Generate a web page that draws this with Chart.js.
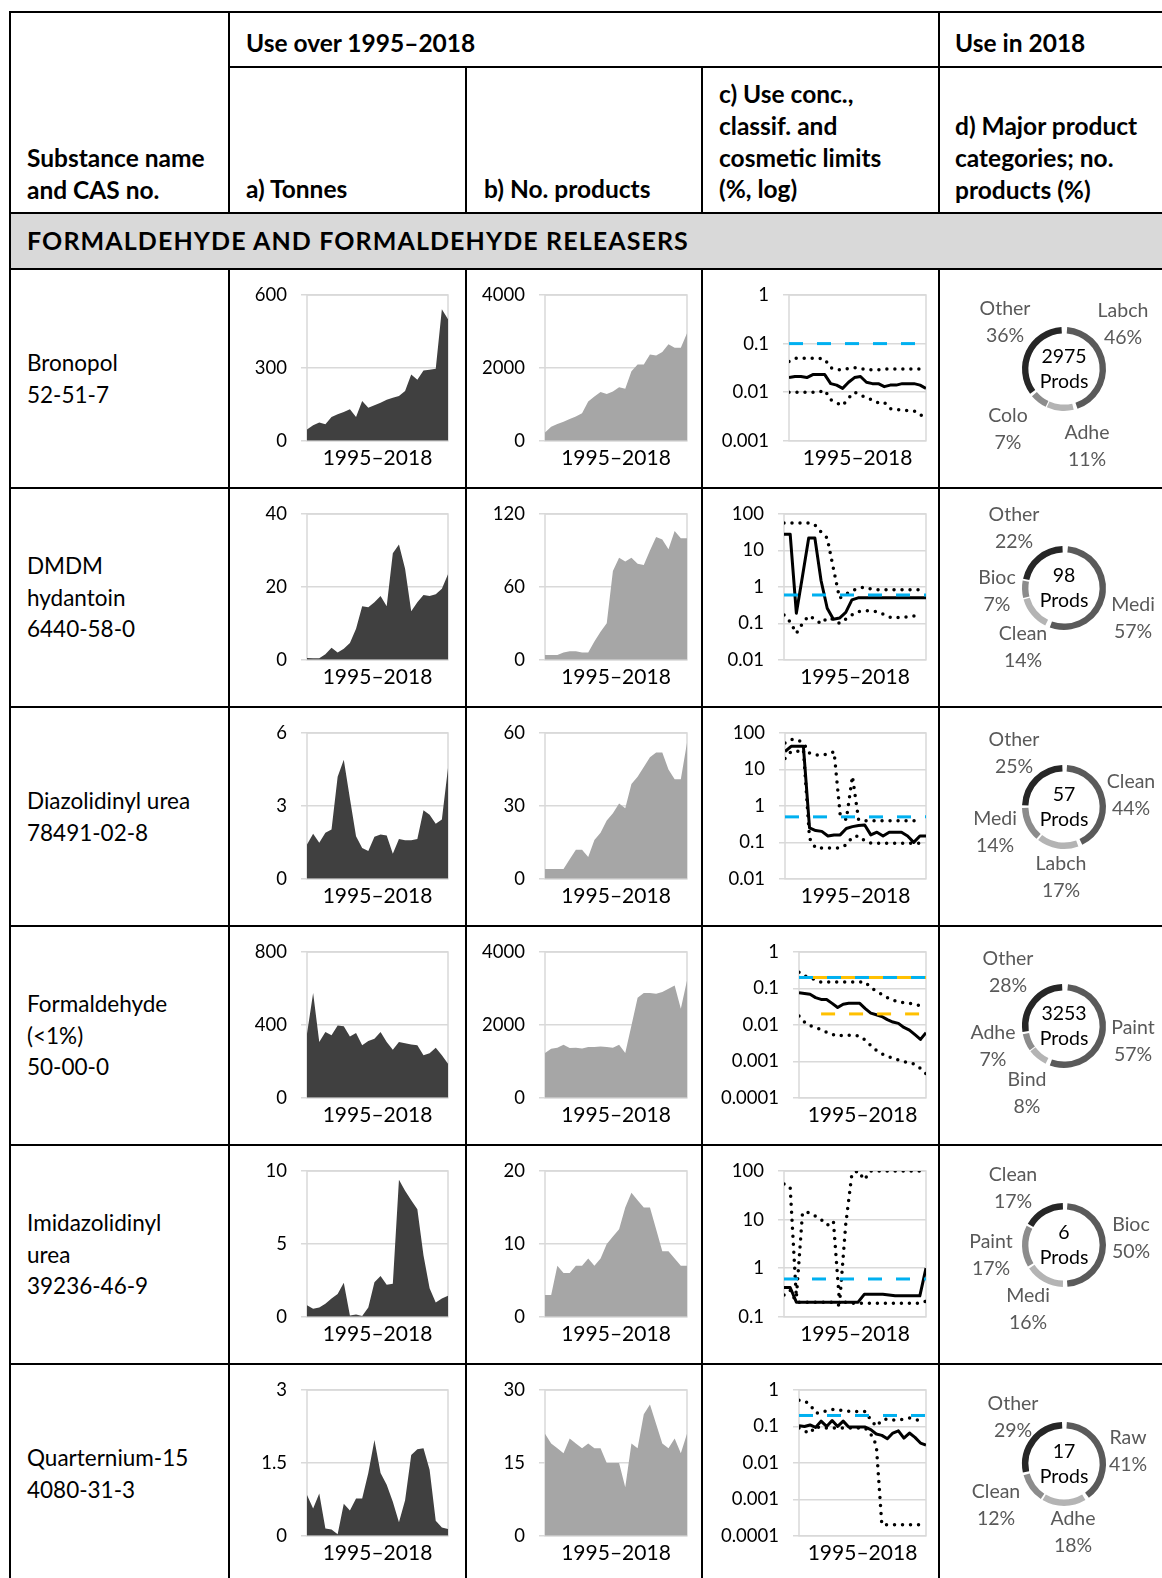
<!DOCTYPE html>
<html>
<head>
<meta charset="utf-8">
<script src="https://cdn.jsdelivr.net/npm/chart.js@4.4.1/dist/chart.umd.min.js"></script>
<style>
  body { margin: 0; background: #fff; }
  #page { position: relative; width: 1162px; height: 1578px; overflow: hidden; font-family: Lato, sans-serif; color: #000; }
  .ln { position: absolute; background: #000; }
  .tx { position: absolute; white-space: nowrap; line-height: 31.7px; }
  .hd { font-weight: bold; font-size: 24.5px; }
  .sec { font-weight: bold; font-size: 25px; letter-spacing: 1.1px; }
  .nm { font-size: 22.5px; }
  canvas { position: absolute; }
</style>
</head>
<body>
<div id="page"></div>
<script>
// Substance use table — tonnes, products, concentrations, product categories

// ---- Data ----
const years = [1995, 1996, 1997, 1998, 1999, 2000, 2001, 2002, 2003, 2004, 2005, 2006,
               2007, 2008, 2009, 2010, 2011, 2012, 2013, 2014, 2015, 2016, 2017, 2018];

const substanceNames = [
  ['Bronopol', '52-51-7'],
  ['DMDM', 'hydantoin', '6440-58-0'],
  ['Diazolidinyl urea', '78491-02-8'],
  ['Formaldehyde', '(<1%)', '50-00-0'],
  ['Imidazolidinyl', 'urea', '39236-46-9'],
  ['Quarternium-15', '4080-31-3']
];

// a) tonnes
const tonnesBronopol = [46, 64, 75, 68, 98, 109, 119, 130, 98, 164, 136, 146, 157, 169, 177, 184, 205, 273, 251, 289, 292, 296, 541, 500];
const tonnesDmdm = [0.5, 0.4, 0.4, 1.5, 3.3, 2.0, 3.0, 4.6, 8.5, 14.7, 14.4, 15.8, 17.5, 14.7, 29.2, 31.6, 25, 13.3, 15.8, 17.8, 17.5, 18, 19.5, 23.5];
const tonnesDiazolidinyl = [1.41, 1.85, 1.48, 1.89, 2.03, 4.2, 4.9, 3.3, 1.75, 1.27, 1.14, 1.73, 1.82, 1.78, 1.03, 1.64, 1.59, 1.59, 1.64, 2.82, 2.64, 2.27, 2.44, 4.56];
const tonnesFormaldehyde = [352, 575, 306, 361, 343, 397, 392, 337, 355, 288, 311, 324, 361, 306, 264, 306, 300, 293, 288, 233, 245, 275, 233, 187];
const tonnesImidazolidinyl = [0.79, 0.56, 0.63, 0.9, 1.26, 1.56, 2.33, 0.09, 0.16, 0.05, 0.63, 2.37, 2.79, 2.19, 2.26, 9.4, 8.65, 8.0, 7.37, 4.23, 1.95, 0.98, 1.26, 1.44];
const tonnesQuaternium = [0.84, 0.56, 0.87, 0.15, 0.13, 0.03, 0.66, 0.52, 0.77, 0.77, 1.29, 1.97, 1.29, 1.05, 0.7, 0.28, 0.73, 1.66, 1.78, 1.8, 1.36, 0.31, 0.17, 0.14];
const tonnesTicks = [[0, 300, 600], [0, 20, 40], [0, 3, 6], [0, 400, 800], [0, 5, 10], [0, 1.5, 3]];

// b) number of products
const prodsBronopol = [230, 387, 461, 525, 600, 664, 756, 1079, 1217, 1337, 1282, 1355, 1466, 1429, 1909, 2093, 2093, 2370, 2342, 2434, 2646, 2554, 2554, 2950];
const prodsDmdm = [4, 4, 4, 6, 7, 7, 6, 6, 15, 23, 30, 73, 84, 81, 84, 79, 78, 90, 101, 99, 91, 106, 100, 100];
const prodsDiazolidinyl = [4, 4, 4, 4, 8, 12, 12, 9, 16, 19, 24, 27, 31, 29, 39, 42, 46, 50, 52, 52, 45, 41, 41, 56];
const prodsFormaldehyde = [1226, 1345, 1373, 1455, 1364, 1373, 1354, 1391, 1391, 1409, 1391, 1373, 1455, 1226, 1986, 2746, 2874, 2874, 2855, 2901, 2992, 3084, 2443, 3221];
const prodsImidazolidinyl = [3, 3, 7, 6, 6, 7, 7, 8, 7, 8, 10, 11, 12, 15, 17, 16, 15, 15, 12, 9, 9, 8, 7, 7];
const prodsQuaternium = [21, 19, 18, 17, 20, 19, 18, 19, 18, 18, 15, 15, 15, 10, 19, 18, 25, 27, 23, 19, 18, 20, 17, 21];
const prodsTicks = [[0, 2000, 4000], [0, 60, 120], [0, 30, 60], [0, 2000, 4000], [0, 10, 20], [0, 15, 30]];

// c) use concentration (%): median, max, min
const concMedBronopol = [0.020, 0.021, 0.021, 0.020, 0.023, 0.023, 0.023, 0.015, 0.014, 0.012, 0.016, 0.020, 0.021, 0.016, 0.015, 0.015, 0.013, 0.014, 0.014, 0.015, 0.015, 0.015, 0.014, 0.012];
const concMaxBronopol = [0.043, 0.05, 0.05, 0.05, 0.05, 0.05, 0.048, 0.032, 0.029, 0.029, 0.031, 0.032, 0.031, 0.029, 0.029, 0.029, 0.03, 0.03, 0.03, 0.03, 0.03, 0.03, 0.03, 0.03];
const concMinBronopol = [0.01, 0.01, 0.01, 0.01, 0.01, 0.01, 0.011, 0.007, 0.006, 0.0053, 0.0076, 0.01, 0.0088, 0.0076, 0.007, 0.006, 0.0062, 0.0046, 0.0044, 0.0043, 0.0042, 0.0041, 0.0036, 0.0025];

const concMedDmdm = [28, 28, 0.19, 2.0, 22, 22, 1.5, 0.26, 0.13, 0.14, 0.2, 0.44, 0.5, 0.5, 0.5, 0.5, 0.5, 0.5, 0.5, 0.5, 0.5, 0.5, 0.5, 0.5];
const concMaxDmdm = [57, 57, 57, 57, 57, 50, 32, 22, 3.2, 0.49, 0.63, 0.78, 0.91, 0.98, 0.88, 0.83, 0.83, 0.83, 0.83, 0.83, 0.83, 0.83, 0.83, 0.83];
const concMinDmdm = [0.17, 0.11, 0.053, 0.10, 0.16, 0.13, 0.097, 0.14, 0.13, 0.10, 0.13, 0.17, 0.21, 0.22, 0.22, 0.21, 0.18, 0.15, 0.14, 0.15, 0.15, 0.16, 0.16, null];

const concMedDiazolidinyl = [31, 43, 43, 43, 0.25, 0.21, 0.2, 0.15, 0.16, 0.16, 0.24, 0.27, 0.29, 0.30, 0.16, 0.19, 0.15, 0.19, 0.19, 0.19, 0.15, 0.10, 0.15, 0.15];
const concMaxDiazolidinyl = [53, 66, 66, 53, 28, 25, 25, 26, 31, 0.57, 0.42, 6.5, 0.42, 0.39, 0.39, 0.39, 0.39, 0.39, 0.39, 0.39, 0.39, 0.39, 0.39, null];
const concMinDiazolidinyl = [20, 31, 31, 35, 0.13, 0.07, 0.07, 0.07, 0.07, 0.07, 0.085, 0.14, 0.15, 0.11, 0.095, 0.095, 0.095, 0.095, 0.095, 0.095, 0.095, 0.095, 0.095, 0.1];

const concMedFormaldehyde = [0.076, 0.073, 0.069, 0.056, 0.05, 0.05, 0.039, 0.03, 0.037, 0.039, 0.039, 0.039, 0.028, 0.021, 0.019, 0.017, 0.014, 0.012, 0.011, 0.0085, 0.0072, 0.0054, 0.004, 0.0061];
const concMaxFormaldehyde = [0.28, 0.22, 0.2, 0.17, 0.15, 0.15, 0.15, 0.15, 0.15, 0.15, 0.15, 0.15, 0.15, 0.105, 0.085, 0.069, 0.056, 0.048, 0.042, 0.041, 0.039, 0.037, 0.033, 0.034];
const concMinFormaldehyde = [0.0175, 0.012, 0.0095, 0.0084, 0.0075, 0.0063, 0.0055, 0.0049, 0.0052, 0.0052, 0.0052, 0.0049, 0.0038, 0.0027, 0.002, 0.0016, 0.0014, 0.0012, 0.0011, 0.00098, 0.00093, 0.00083, 0.00064, 0.00046];

const concMedImidazolidinyl = [0.4, 0.4, 0.2, 0.2, 0.2, 0.2, 0.2, 0.2, 0.2, 0.2, 0.2, 0.2, 0.2, 0.29, 0.29, 0.29, 0.29, 0.28, 0.27, 0.27, 0.27, 0.27, 0.27, 1.0];
const concMaxImidazolidinyl = [54, 46, 0.25, 14, 14, 12, 10, 7.7, 9.3, 0.19, 8, 88, 100, 66, 100, 100, 100, 100, 100, 100, 100, 100, 100, 100];
const concMinImidazolidinyl = [0.28, 0.35, 0.2, 0.2, 0.2, 0.2, 0.2, 0.2, 0.2, 0.17, 0.2, 0.19, 0.19, 0.19, 0.19, 0.19, 0.19, 0.19, 0.19, 0.19, 0.19, 0.19, 0.19, 0.21];

const concMedQuaternium = [0.105, 0.1, 0.11, 0.094, 0.14, 0.1, 0.145, 0.1, 0.14, 0.096, 0.096, 0.096, 0.096, 0.082, 0.062, 0.057, 0.046, 0.066, 0.076, 0.048, 0.066, 0.05, 0.035, 0.031];
const concMaxQuaternium = [0.52, 0.5, 0.4, 0.235, 0.235, 0.27, 0.29, 0.29, 0.27, 0.26, 0.26, 0.25, 0.26, 0.15, 0.1, 0.15, 0.16, 0.15, 0.15, 0.16, 0.17, 0.16, 0.14, null];
const concMinQuaternium = [0.09, 0.075, 0.065, 0.1, 0.09, 0.09, 0.09, 0.09, 0.09, 0.09, 0.09, 0.09, 0.09, 0.062, 0.031, 0.0002, 0.0002, 0.0002, 0.0002, 0.0002, 0.0002, 0.0002, 0.0002, null];

const concTicks = [
  [0.001, 0.01, 0.1, 1],
  [0.01, 0.1, 1, 10, 100],
  [0.01, 0.1, 1, 10, 100],
  [0.0001, 0.001, 0.01, 0.1, 1],
  [0.1, 1, 10, 100],
  [0.0001, 0.001, 0.01, 0.1, 1]
];
// cosmetic limit (blue dashed) per substance
const cosmeticLimit = [0.1, 0.6, 0.5, 0.2, 0.6, 0.2];
// classification limits (orange dashed), formaldehyde only: [value, first year]
const classLimitsFormaldehyde = [[0.2, 1995], [0.02, 1999]];

// d) product categories in 2018
const donutCats = [
  ['Labch', 'Adhe', 'Colo', 'Other'],
  ['Medi', 'Clean', 'Bioc', 'Other'],
  ['Clean', 'Labch', 'Medi', 'Other'],
  ['Paint', 'Bind', 'Adhe', 'Other'],
  ['Bioc', 'Medi', 'Paint', 'Clean'],
  ['Raw', 'Adhe', 'Clean', 'Other']
];
const donutShares = [[46, 11, 7, 36], [57, 14, 7, 22], [44, 17, 14, 25], [57, 8, 7, 28], [50, 16, 17, 17], [41, 18, 12, 29]];
const donutTotals = [2975, 98, 57, 3253, 6, 17];

const tonnesSeries = [tonnesBronopol, tonnesDmdm, tonnesDiazolidinyl, tonnesFormaldehyde, tonnesImidazolidinyl, tonnesQuaternium];
const prodsSeries = [prodsBronopol, prodsDmdm, prodsDiazolidinyl, prodsFormaldehyde, prodsImidazolidinyl, prodsQuaternium];
const concMed = [concMedBronopol, concMedDmdm, concMedDiazolidinyl, concMedFormaldehyde, concMedImidazolidinyl, concMedQuaternium];
const concMax = [concMaxBronopol, concMaxDmdm, concMaxDiazolidinyl, concMaxFormaldehyde, concMaxImidazolidinyl, concMaxQuaternium];
const concMin = [concMinBronopol, concMinDmdm, concMinDiazolidinyl, concMinFormaldehyde, concMinImidazolidinyl, concMinQuaternium];

// ---- Layout ----
const ROW_TOP = [269, 488, 707, 926, 1145, 1364];
const ROW_H = 219;
const CANVAS_H = 217;
const COL_A = { left: 231, width: 233, yWidth: 76, padRight: 16 };
const COL_B = { left: 467, width: 233, yWidth: 78, padRight: 13 };
const COL_C = { left: 704, width: 233, padRight: 11 };
const C_PLOT_LEFT = [789, 784, 785, 799, 784, 799];
const COL_D = { left: 941, width: 221, cx: 123, cy: 100, r: 40 };
// donut label offsets from ring centre, one per category
const DONUT_LABEL_POS = [
  [[59, -45], [23, 77], [-56, 60], [-59, -47]],
  [[69, 30], [-41, 59], [-67, 3], [-50, -60]],
  [[67, -12], [-3, 70], [-69, 25], [-50, -54]],
  [[69, 15], [-37, 67], [-71, 20], [-56, -54]],
  [[67, -7], [-36, 64], [-73, 10], [-51, -57]],
  [[64, -13], [9, 68], [-68, 41], [-51, -47]]
];
const SLICE_COLORS = ['#5a5a5a', '#b4b4b4', '#8c8c8c', '#262626'];
const GRID = '#d9d9d9';

const page = document.getElementById('page');

// ---- Table frame ----
function hline(x1, x2, y) {
  const d = document.createElement('div');
  d.className = 'ln';
  Object.assign(d.style, { left: x1 + 'px', top: (y - 1) + 'px', width: (x2 - x1) + 'px', height: '2px' });
  page.appendChild(d);
}
function vline(x, y1, y2) {
  const d = document.createElement('div');
  d.className = 'ln';
  Object.assign(d.style, { left: (x - 1) + 'px', top: y1 + 'px', width: '2px', height: (y2 - y1) + 'px' });
  page.appendChild(d);
}
function textBlock(lines, left, cyFirst, cls) {
  const d = document.createElement('div');
  d.className = 'tx ' + cls;
  d.style.left = left + 'px';
  d.style.top = (cyFirst - 15.85) + 'px';
  d.innerHTML = lines.map(s => s.replace(/</g, '&lt;')).join('<br>');
  page.appendChild(d);
}

function drawFrame() {
  const band = document.createElement('div');
  Object.assign(band.style, { position: 'absolute', left: '10px', top: '213px', width: '1152px', height: '56px', background: '#d9d9d9' });
  page.appendChild(band);

  hline(9, 1162, 12);
  hline(229, 1162, 67);
  hline(9, 1162, 213);
  hline(9, 1162, 269);
  ROW_TOP.slice(1).forEach(y => hline(9, 1162, y));
  vline(10, 12, 1578);
  vline(229, 12, 213);
  vline(939, 12, 213);
  [466, 702].forEach(x => vline(x, 67, 213));
  [229, 466, 702, 939].forEach(x => vline(x, 269, 1578));

  textBlock(['Use over 1995–2018'], 246, 43, 'hd');
  textBlock(['Use in 2018'], 955, 43, 'hd');
  textBlock(['Substance name', 'and CAS no.'], 27, 158, 'hd');
  textBlock(['a) Tonnes'], 246, 189, 'hd');
  textBlock(['b) No. products'], 484, 189, 'hd');
  textBlock(['c) Use conc.,', 'classif. and', 'cosmetic limits', '(%, log)'], 719, 94, 'hd');
  textBlock(['d) Major product', 'categories; no.', 'products (%)'], 955, 126, 'hd');
  textBlock(['FORMALDEHYDE AND FORMALDEHYDE RELEASERS'], 27, 241, 'sec');

  substanceNames.forEach((lines, i) => {
    const mid = ROW_TOP[i] + ROW_H / 2;
    textBlock(lines, 27, mid - (lines.length - 1) * 31.7 / 2, 'nm');
  });
}

// ---- Chart helpers ----
Chart.defaults.font.family = 'Lato';
Chart.defaults.color = '#000';

const framePlugin = {
  id: 'frame',
  beforeDatasetsDraw(chart) {
    const { ctx, chartArea: a } = chart;
    ctx.save();
    ctx.strokeStyle = GRID;
    ctx.lineWidth = 1.5;
    ctx.strokeRect(a.left, a.top, a.width, a.height);
    ctx.restore();
  }
};

const donutText = {
  id: 'donutText',
  afterDraw(chart, args, opts) {
    const { ctx } = chart;
    const arc = chart.getDatasetMeta(0).data[0];
    const cx = arc.x, cy = arc.y;
    ctx.save();
    ctx.textAlign = 'center';
    ctx.textBaseline = 'middle';
    ctx.font = '19.5px Lato';
    ctx.fillStyle = '#000';
    ctx.fillText(String(opts.total), cx, cy - 12);
    ctx.fillText('Prods', cx, cy + 13);
    ctx.fillStyle = '#595959';
    chart.data.labels.forEach((lab, i) => {
      const [dx, dy] = opts.offsets[i];
      ctx.fillText(lab, cx + dx, cy + dy - 13.5);
      ctx.fillText(chart.data.datasets[0].data[i] + '%', cx + dx, cy + dy + 13.5);
    });
    ctx.restore();
  }
};

function makeCanvas(col, top) {
  const c = document.createElement('canvas');
  c.width = col.width;
  c.height = CANVAS_H;
  c.style.left = col.left + 'px';
  c.style.top = top + 'px';
  page.appendChild(c);
  return c;
}

function points(values) {
  return years.map((x, i) => ({ x, y: values[i] }));
}

function axisOptions(yType, ticks, yWidth, padRight) {
  return {
    responsive: false,
    animation: false,
    layout: { padding: { top: 26, right: padRight, bottom: 15, left: 0 } },
    plugins: { legend: { display: false }, tooltip: { enabled: false } },
    scales: {
      x: {
        type: 'linear', min: years[0], max: years[years.length - 1],
        ticks: { display: false },
        grid: { display: false, drawTicks: false },
        border: { display: false },
        title: { display: true, text: '1995–2018', font: { size: 21 }, color: '#000', padding: { top: 5, bottom: 0 } }
      },
      y: {
        type: yType, min: ticks[0], max: ticks[ticks.length - 1],
        afterBuildTicks: s => { s.ticks = ticks.map(v => ({ value: v })); },
        afterFit: s => { s.width = yWidth; },
        ticks: { font: { size: 18.5 }, color: '#000', padding: 14, callback: v => String(v) },
        grid: { color: GRID, lineWidth: 1.5, tickLength: 6 },
        border: { display: false }
      }
    }
  };
}

function areaChart(col, top, values, ticks, color) {
  return new Chart(makeCanvas(col, top), {
    type: 'line',
    data: { datasets: [{ data: points(values), fill: 'origin', backgroundColor: color, borderWidth: 0, pointRadius: 0, tension: 0 }] },
    options: axisOptions('linear', ticks, col.yWidth, col.padRight),
    plugins: [framePlugin]
  });
}

function limitLine(value, fromYear, color, dashOffset) {
  return {
    data: [{ x: fromYear, y: value }, { x: years[years.length - 1], y: value }],
    borderColor: color, borderWidth: 3, borderDash: [14, 14], borderDashOffset: dashOffset,
    pointRadius: 0, fill: false
  };
}

function concChart(i, top) {
  const dotted = { borderColor: '#000', borderWidth: 3.5, borderDash: [0, 8], borderCapStyle: 'round', pointRadius: 0, fill: false, spanGaps: false };
  const datasets = [limitLine(cosmeticLimit[i], years[0], '#00b0f0', 0)];
  if (i === 3) {
    classLimitsFormaldehyde.forEach(([v, y0], k) => datasets.push(limitLine(v, y0, '#ffc000', k === 0 ? 14 : 0)));
  }
  datasets.push({ data: points(concMed[i]), borderColor: '#000', borderWidth: 3, borderJoinStyle: 'round', pointRadius: 0, fill: false });
  datasets.push(Object.assign({ data: points(concMax[i]) }, dotted));
  datasets.push(Object.assign({ data: points(concMin[i]) }, dotted));
  return new Chart(makeCanvas(COL_C, top), {
    type: 'line',
    data: { datasets },
    options: axisOptions('logarithmic', concTicks[i], C_PLOT_LEFT[i] - COL_C.left, COL_C.padRight),
    plugins: [framePlugin]
  });
}

function donutChart(i, top) {
  const s = 4;
  const d = COL_D;
  const half = d.r + s / 2;
  return new Chart(makeCanvas(d, top), {
    type: 'doughnut',
    data: {
      labels: donutCats[i],
      datasets: [{ data: donutShares[i], backgroundColor: SLICE_COLORS, borderWidth: 0, spacing: s }]
    },
    options: {
      responsive: false,
      animation: false,
      cutout: '84%',
      layout: { padding: { left: d.cx - half, right: d.width - d.cx - half, top: d.cy - half, bottom: CANVAS_H - d.cy - half } },
      plugins: {
        legend: { display: false },
        tooltip: { enabled: false },
        donutText: { total: donutTotals[i], offsets: DONUT_LABEL_POS[i] }
      }
    },
    plugins: [donutText]
  });
}

// ---- Page init ----
drawFrame();
ROW_TOP.forEach((top, i) => {
  areaChart(COL_A, top, tonnesSeries[i], tonnesTicks[i], '#404040');
  areaChart(COL_B, top, prodsSeries[i], prodsTicks[i], '#a6a6a6');
  concChart(i, top);
  donutChart(i, top);
});
</script>
</body>
</html>
